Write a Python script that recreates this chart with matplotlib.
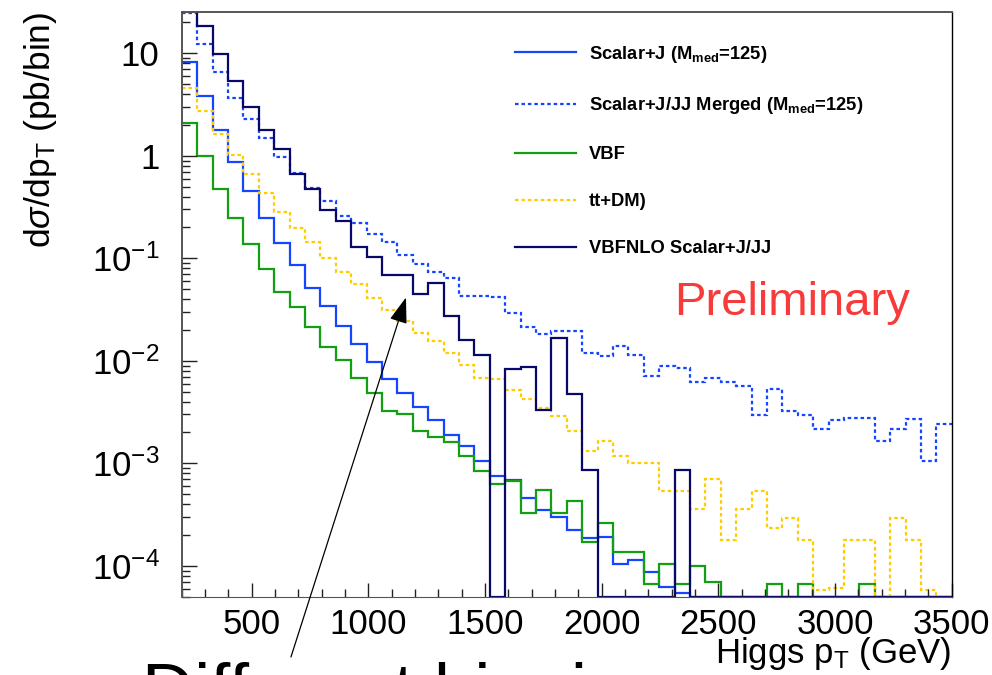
"""Higgs pT spectra for the scalar mediator samples, ROOT-style log plot."""

import numpy as np
import matplotlib
matplotlib.use("Agg")
import matplotlib.pyplot as plt
import matplotlib.ticker as mticker

plt.rcParams["font.family"] = ["Liberation Sans", "DejaVu Sans"]
plt.rcParams["mathtext.fontset"] = "custom"
plt.rcParams["mathtext.rm"] = "Liberation Sans"
plt.rcParams["mathtext.it"] = "Liberation Sans:italic"
plt.rcParams["mathtext.bf"] = "Liberation Sans:bold"

# histogram binning: 50 bins of 66 GeV from 200 to 3500
PT_LOW = 200
BIN_WIDTH = 66
N_BINS = 50

scalar_j = [
    8.28, 3.83, 1.78, 0.863, 0.453, 0.248, 0.1396, 0.0859, 0.0516, 0.0342,
    0.0218, 0.01445, 0.00978, 0.00663, 0.00491, 0.00355, 0.00263, 0.00188, 0.00147, 0.00105,
    7.48e-4, 6.94e-4, 4.64e-4, 3.48e-4, 3.0e-4, 2.26e-4, 1.87e-4, 1.91e-4, 1.05e-4, 1.13e-4,
    8.7e-5, 6.2e-5, 5.4e-5, 0, 0, 0, 0, 0, 0, 0,
    0, 0, 0, 0, 0, 0, 0, 0, 0, 0,
]
scalar_merged = [
    25.0, 12.2, 6.53, 3.69, 2.28, 1.48, 0.966, 0.684, 0.488, 0.364,
    0.26, 0.219, 0.172, 0.145, 0.1073, 0.0871, 0.0738, 0.0636, 0.0431, 0.0425,
    0.0420, 0.029, 0.0214, 0.0182, 0.0195, 0.0195, 0.01205, 0.01117, 0.014, 0.01153,
    0.00713, 0.00887, 0.0086, 0.00624, 0.00673, 0.00615, 0.00566, 0.00299, 0.00537, 0.00323,
    0.00295, 0.00214, 0.00264, 0.00274, 0.00274, 0.00164, 0.00214, 0.00269, 0.00105, 0.00244,
]
vbf = [
    2.07, 1.0, 0.473, 0.248, 0.1368, 0.0796, 0.0465, 0.0337, 0.0214, 0.01368,
    0.0103, 0.00682, 0.00491, 0.00325, 0.00306, 0.00207, 0.00179, 0.0016, 0.00118, 8.37e-4,
    6.35e-4, 6.68e-4, 3.31e-4, 5.47e-4, 3.31e-4, 4.3e-4, 1.69e-4, 2.64e-4, 1.35e-4, 1.35e-4,
    6.6e-5, 1.04e-4, 6.7e-5, 9.97e-5, 6.95e-5, 0, 0, 0, 6.7e-5, 0,
    6.7e-5, 0, 0, 0, 6.7e-5, 0, 0, 0, 0, 0,
]
tt_dm = [
    4.62, 2.74, 1.63, 1.02, 0.659, 0.436, 0.285, 0.199, 0.145, 0.101,
    0.0728, 0.0556, 0.0412, 0.0312, 0.0244, 0.0185, 0.0157, 0.0118, 0.0092, 0.00673,
    0.00658, 0.00517, 0.00429, 0.00343, 0.0029, 0.00207, 0.00131, 0.00166, 0.00118, 0.00101,
    0.00101, 5.38e-4, 5.38e-4, 3.56e-4, 7.1e-4, 1.77e-4, 3.56e-4, 5.38e-4, 2.36e-4, 2.93e-4,
    1.8e-4, 5.8e-5, 6.1e-5, 1.8e-4, 1.8e-4, 0, 2.93e-4, 1.77e-4, 5.8e-5, 0,
]
vbfnlo = [
    30.0, 18.5, 9.85, 5.37, 3.01, 1.78, 1.16, 0.664, 0.473, 0.295,
    0.231, 0.129, 0.1035, 0.0686, 0.0686, 0.0445, 0.0569, 0.0275, 0.01614, 0.01153,
    0, 0.00841, 0.00873, 0.00335, 0.01652, 0.00473, 8.69e-4, 0, 0, 0,
    0, 0, 8.69e-4, 0, 0, 0, 0, 0, 0, 0,
    0, 0, 0, 0, 0, 0, 0, 0, 0, 0,
]

labels = [
    r"Scalar+J (M$_{\mathbf{med}}$=125)",
    r"Scalar+J/JJ Merged (M$_{\mathbf{med}}$=125)",
    "VBF",
    "tt+DM)",
    "VBFNLO Scalar+J/JJ",
]

Y_MIN, Y_MAX = 5.0e-5, 25.5
_FRAME = "#555555"

series = [
    (scalar_j, "#1446ff", "-"),
    (scalar_merged, "#1446ff", (0, (1.6, 1.3))),
    (vbf, "#12a012", "-"),
    (tt_dm, "#ffcc00", (0, (1.6, 1.3))),
    (vbfnlo, "#08086a", "-"),
]

fig = plt.figure(figsize=(9.92, 6.75), dpi=100)
ax = fig.add_axes([0.1832, 0.116, 0.7762, 0.8667])

edges = PT_LOW + BIN_WIDTH * np.arange(N_BINS + 1)
for (values, color, style), label in zip(series, labels):
    vals = np.asarray(values, dtype=float)
    # empty bins sit on the frame floor, as ROOT draws them
    vals = np.where(vals > 0, vals, Y_MIN)
    ax.stairs(vals, edges, baseline=None, color=color, linestyle=style,
              linewidth=1.6, label=label)

ax.set_yscale("log")
ax.set_xlim(PT_LOW, PT_LOW + BIN_WIDTH * N_BINS)
ax.set_ylim(Y_MIN, Y_MAX)

ax.set_xticks([500, 1000, 1500, 2000, 2500, 3000, 3500])
ax.xaxis.set_minor_locator(mticker.MultipleLocator(100))
ax.set_yticks([1e-4, 1e-3, 1e-2, 1e-1, 1, 10],
              [r"$10^{-4}$", r"$10^{-3}$", r"$10^{-2}$", r"$10^{-1}$", "1", "10"])
ax.yaxis.set_minor_locator(mticker.LogLocator(base=10, subs=np.arange(2, 10)))
ax.yaxis.set_minor_formatter(mticker.NullFormatter())

ax.tick_params(axis="both", which="both", direction="in", colors="#222222",
               labelsize=25, labelcolor="black")
ax.tick_params(axis="x", which="major", length=10, width=1.0, pad=8)
ax.tick_params(axis="x", which="minor", length=6, width=1.0)
ax.tick_params(axis="y", which="major", length=11, width=1.0, pad=16)
ax.tick_params(axis="y", which="minor", length=6, width=1.0)
for side in ("left", "top"):
    ax.spines[side].set_color(_FRAME)
    ax.spines[side].set_linewidth(1.4)
ax.spines["right"].set_color("black")
ax.spines["right"].set_linewidth(1.0)
ax.spines["bottom"].set_color(_FRAME)

ax.set_ylabel(r"d$\sigma$/dp$_{\mathrm{T}}$ (pb/bin)", fontsize=25.5, loc="top")
ax.yaxis.set_label_coords(-0.16, 1.0)
ax.set_xlabel(r"Higgs p$_{\mathrm{T}}$ (GeV)", fontsize=25, loc="right")
ax.xaxis.set_label_coords(1.0, -0.065)

leg = ax.legend(loc="upper left", bbox_to_anchor=(0.433, 0.945), frameon=False,
                borderaxespad=0, borderpad=0, handlelength=3.3, handletextpad=0.72,
                labelspacing=1.64, prop={"family": "Liberation Sans", "weight": "bold", "size": 13.2})

ax.text(0.639, 0.482, "Preliminary", transform=ax.transAxes, fontsize=34,
        color="#f83a3a", ha="left", va="baseline")

ax.annotate("", xy=(1161, 0.0415), xycoords="data",
            xytext=(0.2933, 0.0267), textcoords="figure fraction",
            arrowprops=dict(arrowstyle="-|>,head_length=1.6,head_width=0.55",
                            color="black", lw=0.9, shrinkA=0, shrinkB=0),
            annotation_clip=False)

fig.text(0.143, -0.058, "Different binning", fontsize=52, color="black",
         ha="left", va="baseline")

fig.savefig("out.png", dpi=100)
